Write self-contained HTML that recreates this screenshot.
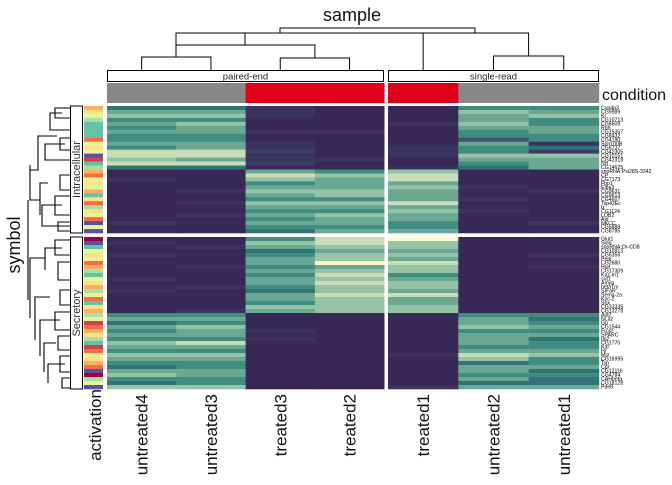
<!DOCTYPE html>
<html><head><meta charset="utf-8"><style>
body{margin:0;background:#fff;width:672px;height:480px;overflow:hidden}
text{font-family:"Liberation Sans",sans-serif}
</style></head><body>
<svg id="chart" width="672" height="480" xmlns="http://www.w3.org/2000/svg"></svg>
<script>
const samples=["untreated4","untreated3","treated3","treated2","treated1","untreated2","untreated1"];
const libraryType=["paired-end","paired-end","paired-end","paired-end","single-read","single-read","single-read"];
const condition=["untreated","untreated","treated","treated","treated","untreated","untreated"];
const topGenes=["Cyp4p3","CG9989","Kr","CG10713","CG6609","Rbh","CG15357","CG8432","CG4190","Spn100B","CG6737","CG42305","CG10151","CG42318","Nrt","CG14625","snoRNA:Psi28S-3342","CP","CG7173","Fbp1","Elba3","CG9631","CG9613","CG4607","Tsp42Ec","lz","CG1124","LOB2","Ald","NKCC","CG5888","CG8785"];
const topValues=["4410055","6610076","7710067","5500065","6700175","5600066","6611056","5500055","5500035","6610061","5610154","8820152","8810177","7611066","8820056","4400146","0065700","0087800","1076800","0056600","0066710","0177601","0067600","0055610","0177800","0066600","0055710","0167600","0056600","1066501","0055500","0046600"];
const topActivation=[2,3,4,5,6,6,6,6,1,4,3,4,8,0,6,5,2,1,4,3,4,2,6,3,1,5,3,4,1,8,4,8];
const botGenes=["Glut1","Slob","snoRNA:Or-CD8","CG10913","CG6356","Pepr","CG2680","Hse","CG17309","Kaz-m1","sut1","Amyp","betaTry","SIFaR","Sema-2a","Kpc-2","Sox","CG33335","CG13278","Ald2","NLaz","Gp","CG1544","Frost","SPARC","Ilp2","CG1770","Kaf","Hr","Msr","CG16995","Tsp","Cpr","CG12116","CG4784","CAHbeta","CG18128","Pde8"];
const botValues=["0058900","1078700","0167700","0046600","1057701","0067600","0069800","0156701","0067700","0058500","1067600","0068700","0157700","1047600","0068800","0067600","0057600","0077700","0167700","5500055","6600064","4500065","6700076","5610055","6600066","5510064","7800065","6600055","5500066","7700187","6600075","5500045","4500066","6600064","7600055","5500064","4500044","7700166"];
const botActivation=[9,8,6,4,3,4,1,2,5,6,4,3,2,5,4,1,6,3,2,5,4,0,1,2,3,5,6,0,1,4,3,2,1,8,9,5,4,8];

const NS="http://www.w3.org/2000/svg";
const svg=document.getElementById('chart');
function el(tag,attrs,parent){const e=document.createElementNS(NS,tag);for(const k in attrs)e.setAttribute(k,attrs[k]);(parent||svg).appendChild(e);return e;}
const stops=[[0,[55,40,85]],[2,[58,62,100]],[4,[50,115,118]],[5,[64,140,128]],[7,[150,195,165]],[8,[200,220,182]],[9,[252,250,200]]];
function colorScale(v){for(let i=1;i<stops.length;i++){if(v<=stops[i][0]){const a=stops[i-1],b=stops[i];const t=(v-a[0])/(b[0]-a[0]);const c=a[1].map((x,j)=>Math.round(x+(b[1][j]-x)*t));return `rgb(${c})`;}}return 'rgb(252,250,200)';}
const actPal=["#d53e4f","#f46d43","#fdae61","#fee08b","#e6f598","#abdda4","#66c2a5","#3288bd","#5e4fa2","#9e0142"];
const colLeft=[107,388],colW=69.3;
function colX(i){return i<4?colLeft[0]+i*colW:colLeft[1]+(i-4)*70.3;}
function colWid(i){return i<4?colW:70.3;}
function colC(i){return colX(i)+colWid(i)/2;}
const blocks=[{genes:topGenes,vals:topValues,act:topActivation,y0:106,y1:233,name:"Intracellular"},{genes:botGenes,vals:botValues,act:botActivation,y0:237,y1:389,name:"Secretory"}];
blocks.forEach((b,bi)=>{
 const h=(b.y1-b.y0)/b.genes.length;
 b.genes.forEach((g,r)=>{
  const y=b.y0+r*h;
  for(let c=0;c<7;c++){
   const rc=el('rect',{x:colX(c),y:y,width:colWid(c)+0.3,height:h+0.3,fill:colorScale(+b.vals[r][c])});
   
   
  }
  const a=el('rect',{x:84,y:y,width:19,height:h+0.3,fill:actPal[b.act[r]]});
  
  
  const t=el('text',{x:601,y:y+h-0.3,'font-size':5.2,fill:'#000'});t.textContent=g;
  
  
 });
 const bx=el('rect',{x:70.5,y:b.y0,width:12,height:b.y1-b.y0,fill:'#fff',stroke:'#000','stroke-width':1});
 
 
 const cy=(b.y0+b.y1)/2;
 const lt=el('text',{x:80,y:cy,'font-size':11,'text-anchor':'middle',fill:'#333',transform:`rotate(-90 80 ${cy})`});lt.textContent=b.name;
 
 
});
[[107,384,"paired-end"],[388,599,"single-read"]].forEach(p=>{
 const r=el('rect',{x:p[0]+0.5,y:70.5,width:p[1]-p[0]-1,height:11,fill:'#fff',stroke:'#000'});
 
 
 const t=el('text',{x:(p[0]+p[1])/2,y:79.5,'font-size':9.5,'text-anchor':'middle',fill:'#222'});t.textContent=p[2];
 
 
});
for(let c=0;c<7;c++){
 const r=el('rect',{x:colX(c),y:83,width:colWid(c)+0.3,height:20,fill:condition[c]=="treated"?'#e0001b':'#888888'});
 
 
 const t=el('text',{x:colC(c)+6,y:394,'font-size':17,'text-anchor':'end',fill:'#111',transform:`rotate(-90 ${colC(c)+6} 394)`});t.textContent=samples[c];
 
 
}
function lab(x,y,txt,size,name,rot){const t=el('text',{x:x,y:y,'font-size':size,'text-anchor':rot?'middle':'start',fill:'#111',transform:rot?`rotate(-90 ${x} ${y})`:''});t.textContent=txt;}
lab(602,100,"condition",16,"condition-title",false);
const st=el('text',{x:352,y:21,'font-size':18,'text-anchor':'middle',fill:'#111'});st.textContent="sample";


lab(20,245,"symbol",18,"row-title",true);
lab(101,425,"activation",17,"activation-title",true);
const cd=el('path',{d:`M${colC(0)} 70V57H${colC(1)}V70 M${colC(2)} 70V58H${colC(3)}V70 M176 57V45H${(colC(2)+colC(3))/2}V58 M${colC(5)} 70V56H${colC(6)}V70 M${colC(4)} 70V33H${(colC(5)+colC(6))/2}V56 M${(176+314)/2} 45V33 M176 45V33H424`,fill:'none',stroke:'#000','stroke-width':1});


const cd2=el('path',{d:`M280 33V28H475V33`,fill:'none',stroke:'#000'});


const rd=el('path',{d:"M70 108H55V118H70M62 113H50V130H70M70 138H60V150H70M65 144H45V160H70M57 136H38V170H30V165 M70 175H60V190H70M70 196H55V215H70M70 222H58V231H70M62 205H42V226H70 M48 183H40V215 M30 165V200H40 M70 240H55V255H70M70 262H58V280H70M62 248H45V270 M70 290H60V305H70M70 312H55V330H70M70 336H58V350H70M70 356H60V372H70M70 378H62V388H70M65 364H48V383M56 343H44V372M60 320H40V356M50 297H35V340 M45 258H30V318 M28 300V200",fill:'none',stroke:'#000','stroke-width':1.1});


</script>
</body></html>
